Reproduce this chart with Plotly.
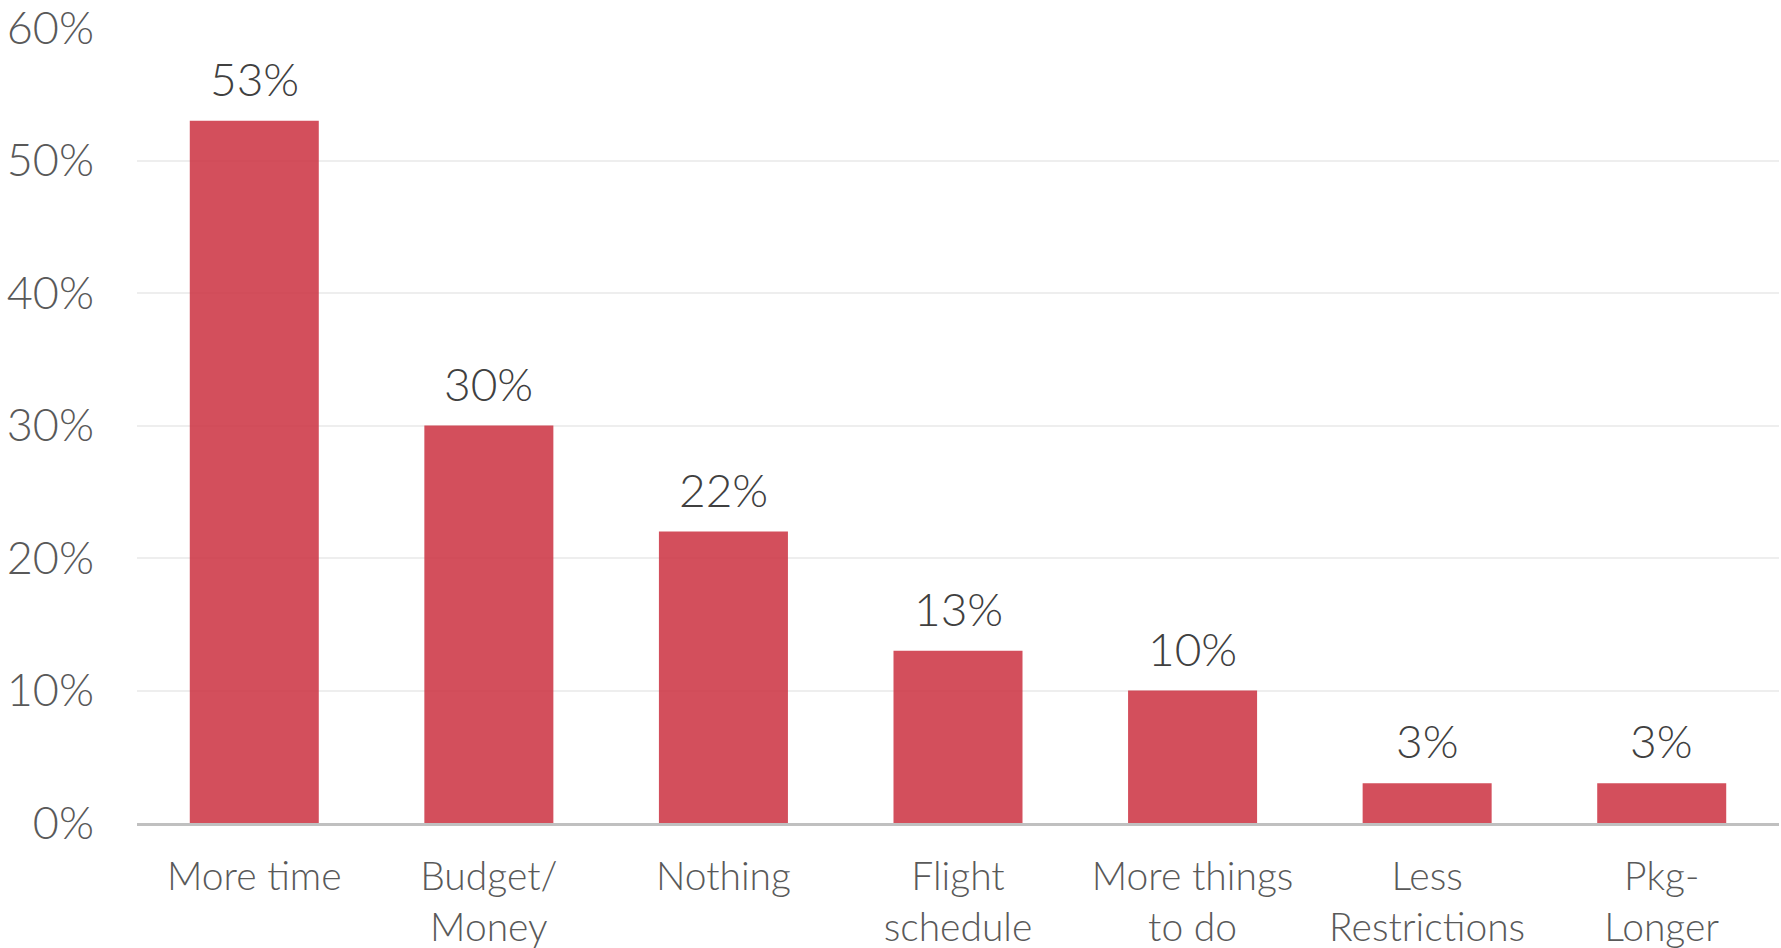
import plotly.graph_objects as go

# Survey responses: what would make the trip better
categories = ["More time", "Budget/<br>Money", "Nothing", "Flight<br>schedule",
              "More things<br>to do", "Less<br>Restrictions", "Pkg-<br>Longer"]
shares = [53, 30, 22, 13, 10, 3, 3]
y_ticks = [0, 10, 20, 30, 40, 50, 60]
y_tick_labels = [f"{v}%" for v in y_ticks]

FONT = "Lato, 'Open Sans', sans-serif"
BAR = "rgba(205,55,70,0.88)"

fig = go.Figure(
    go.Bar(
        x=categories,
        y=shares,
        marker=dict(color=BAR, line=dict(width=0)),
        hoverinfo="skip",
        cliponaxis=False,
    )
)

# Value labels above each bar
for cat, val in zip(categories, shares):
    fig.add_annotation(
        x=cat, y=val, text=f"{val}%", showarrow=False,
        yanchor="bottom", yshift=13,
        font=dict(family=FONT, size=46, color="#404040", weight=300),
    )

fig.update_layout(
    width=1781, height=948,
    margin=dict(l=137, r=2, t=28, b=125, autoexpand=False),
    paper_bgcolor="white", plot_bgcolor="white",
    bargap=0.45,
    showlegend=False,
    font=dict(family=FONT, size=42, color="#595959"),
)

fig.update_xaxes(
    automargin=False,
    showgrid=False,
    showline=True, linecolor="#c0c0c0", linewidth=3,
    ticks="", ticklabelstandoff=17,
    tickfont=dict(family=FONT, size=39, color="#595959", weight=300),
)

fig.update_yaxes(
    automargin=False,
    range=[0, 60],
    tickvals=y_ticks, ticktext=y_tick_labels,
    ticklabeloverflow="allow",
    showgrid=True, gridcolor="#eeeeee", gridwidth=2,
    zeroline=False, showline=False, ticks="",
    ticklabelstandoff=42,
    tickfont=dict(family=FONT, size=45, color="#595959", weight=300),
)

fig.write_html("out.html")
